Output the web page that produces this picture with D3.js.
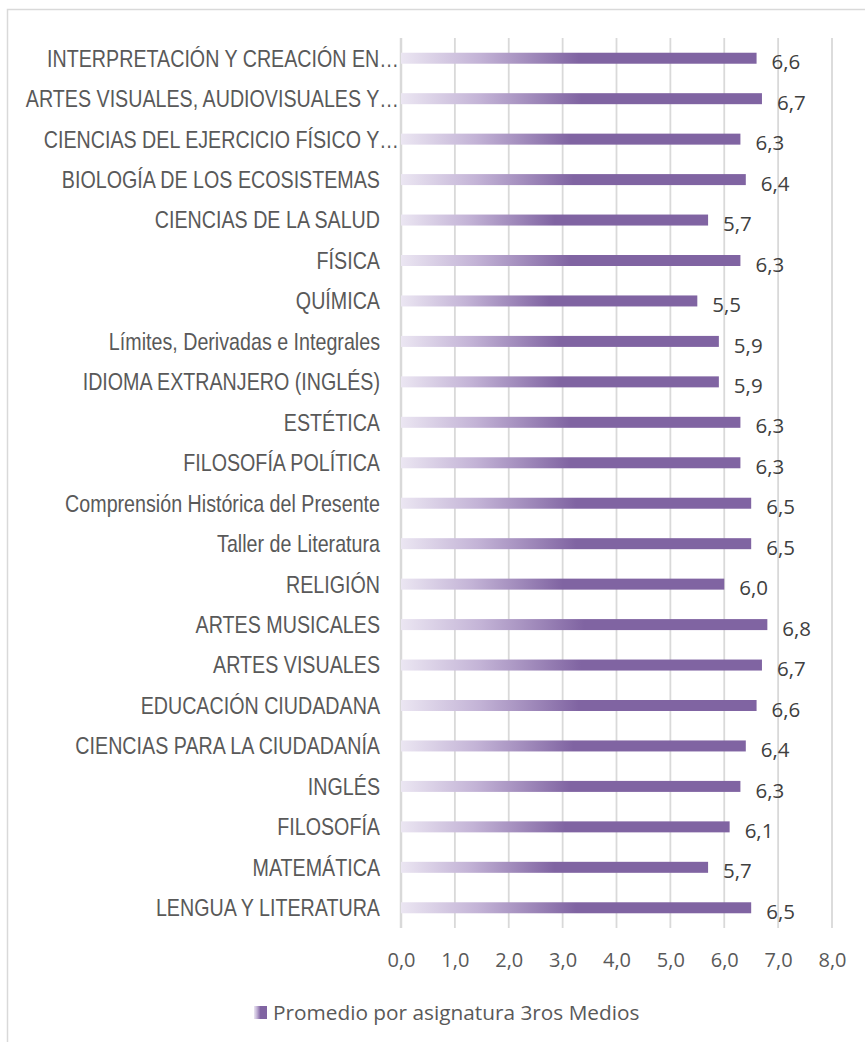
<!DOCTYPE html>
<html>
<head>
<meta charset="utf-8">
<script src="https://cdn.jsdelivr.net/npm/d3@7"></script>
<style>
  html, body { margin: 0; padding: 0; background: #fff; }
  svg { display: block; }
</style>
</head>
<body>
<div id="chart"></div>
<script>
const categories = [
  "INTERPRETACIÓN Y CREACIÓN EN…",
  "ARTES VISUALES, AUDIOVISUALES Y…",
  "CIENCIAS DEL EJERCICIO FÍSICO Y…",
  "BIOLOGÍA DE LOS ECOSISTEMAS",
  "CIENCIAS DE LA SALUD",
  "FÍSICA",
  "QUÍMICA",
  "Límites, Derivadas e Integrales",
  "IDIOMA EXTRANJERO (INGLÉS)",
  "ESTÉTICA",
  "FILOSOFÍA POLÍTICA",
  "Comprensión Histórica del Presente",
  "Taller de Literatura",
  "RELIGIÓN",
  "ARTES MUSICALES",
  "ARTES VISUALES",
  "EDUCACIÓN CIUDADANA",
  "CIENCIAS PARA LA CIUDADANÍA",
  "INGLÉS",
  "FILOSOFÍA",
  "MATEMÁTICA",
  "LENGUA Y LITERATURA"
];
const promedio = [6.6, 6.7, 6.3, 6.4, 5.7, 6.3, 5.5, 5.9, 5.9, 6.3, 6.3, 6.5, 6.5, 6.0, 6.8, 6.7, 6.6, 6.4, 6.3, 6.1, 5.7, 6.5];
const xTicks = [0, 1, 2, 3, 4, 5, 6, 7, 8];
const seriesName = "Promedio por asignatura 3ros Medios";

const width = 865, height = 1042;
const plot = { left: 401, right: 832, top: 38, bottom: 928 };
const fmt = v => v.toFixed(1).replace(".", ",");
const numFont = "'Open Sans', 'Noto Sans', sans-serif";

const svg = d3.select("#chart").append("svg")
  .attr("width", width)
  .attr("height", height);

const defs = svg.append("defs");
const grad = defs.append("linearGradient")
  .attr("id", "barGrad")
  .attr("x1", "0").attr("y1", "0").attr("x2", "1").attr("y2", "0");
grad.append("stop").attr("offset", "0").attr("stop-color", "#ebe6f2");
grad.append("stop").attr("offset", "0.22").attr("stop-color", "#c3b3d6");
grad.append("stop").attr("offset", "0.5").attr("stop-color", "#8064a2");
grad.append("stop").attr("offset", "1").attr("stop-color", "#8064a2");

// chart border
svg.append("rect")
  .attr("x", 7.5).attr("y", 9.5)
  .attr("width", width + 20).attr("height", height + 20)
  .attr("fill", "none")
  .attr("stroke", "#d9d9d9")
  .attr("stroke-width", 1.5);

const x = d3.scaleLinear().domain([0, 8]).range([plot.left, plot.right]);
const y = d3.scaleBand().domain(categories).range([plot.top, plot.bottom]);

// gridlines
svg.append("g")
  .selectAll("line")
  .data(xTicks)
  .join("line")
  .attr("x1", d => x(d)).attr("x2", d => x(d))
  .attr("y1", plot.top).attr("y2", plot.bottom)
  .attr("stroke", "#d9d9d9")
  .attr("stroke-width", d => d === 0 ? 2.5 : 1.8);

// x axis labels
const xAxis = d3.axisBottom(x)
  .tickValues(xTicks)
  .tickFormat(fmt)
  .tickSize(0)
  .tickPadding(0);
const gx = svg.append("g")
  .attr("transform", `translate(0,${plot.bottom + 32})`)
  .call(xAxis);
gx.select(".domain").remove();
gx.selectAll("text")
  .attr("dy", "0.35em")
  .attr("fill", "#595959")
  .style("font-family", numFont)
  .style("font-size", "20px");

// category labels (narrow face squeezed horizontally)
// truncated labels sit flush against the axis, the rest keep a gap
const yAxis = d3.axisLeft(y).tickSize(0).tickPadding(0);
const gy = svg.append("g")
  .attr("transform", `translate(${plot.left - 21},0)`)
  .call(yAxis);
gy.select(".domain").remove();
gy.selectAll("text")
  .attr("dy", "0.35em")
  .attr("transform", d => (d.endsWith("…") ? "translate(19,0) " : "") + "scale(0.82,1)")
  .attr("fill", "#595959")
  .style("font-family", "'Liberation Sans', Arial, sans-serif")
  .style("font-size", "24px");

// bars
const barH = 11;
svg.append("g")
  .selectAll("rect")
  .data(promedio)
  .join("rect")
  .attr("x", x(0))
  .attr("y", (d, i) => y(categories[i]) + y.bandwidth() / 2 - barH / 2)
  .attr("width", d => x(d) - x(0))
  .attr("height", barH)
  .attr("fill", "url(#barGrad)");

// data labels
svg.append("g")
  .selectAll("text")
  .data(promedio)
  .join("text")
  .attr("x", d => x(d) + 15)
  .attr("y", (d, i) => y(categories[i]) + y.bandwidth() / 2 + 4)
  .attr("dy", "0.35em")
  .attr("fill", "#404040")
  .style("font-family", numFont)
  .style("font-size", "20.5px")
  .text(fmt);

// legend
const legend = svg.append("g").attr("transform", "translate(254,1006)");
legend.append("rect")
  .attr("width", 13).attr("height", 13)
  .attr("fill", "url(#barGrad)");
legend.append("text")
  .attr("x", 19).attr("y", 6.5)
  .attr("dy", "0.35em")
  .attr("fill", "#595959")
  .style("font-family", numFont)
  .style("font-size", "20.8px")
  .text(seriesName);
</script>
</body>
</html>
